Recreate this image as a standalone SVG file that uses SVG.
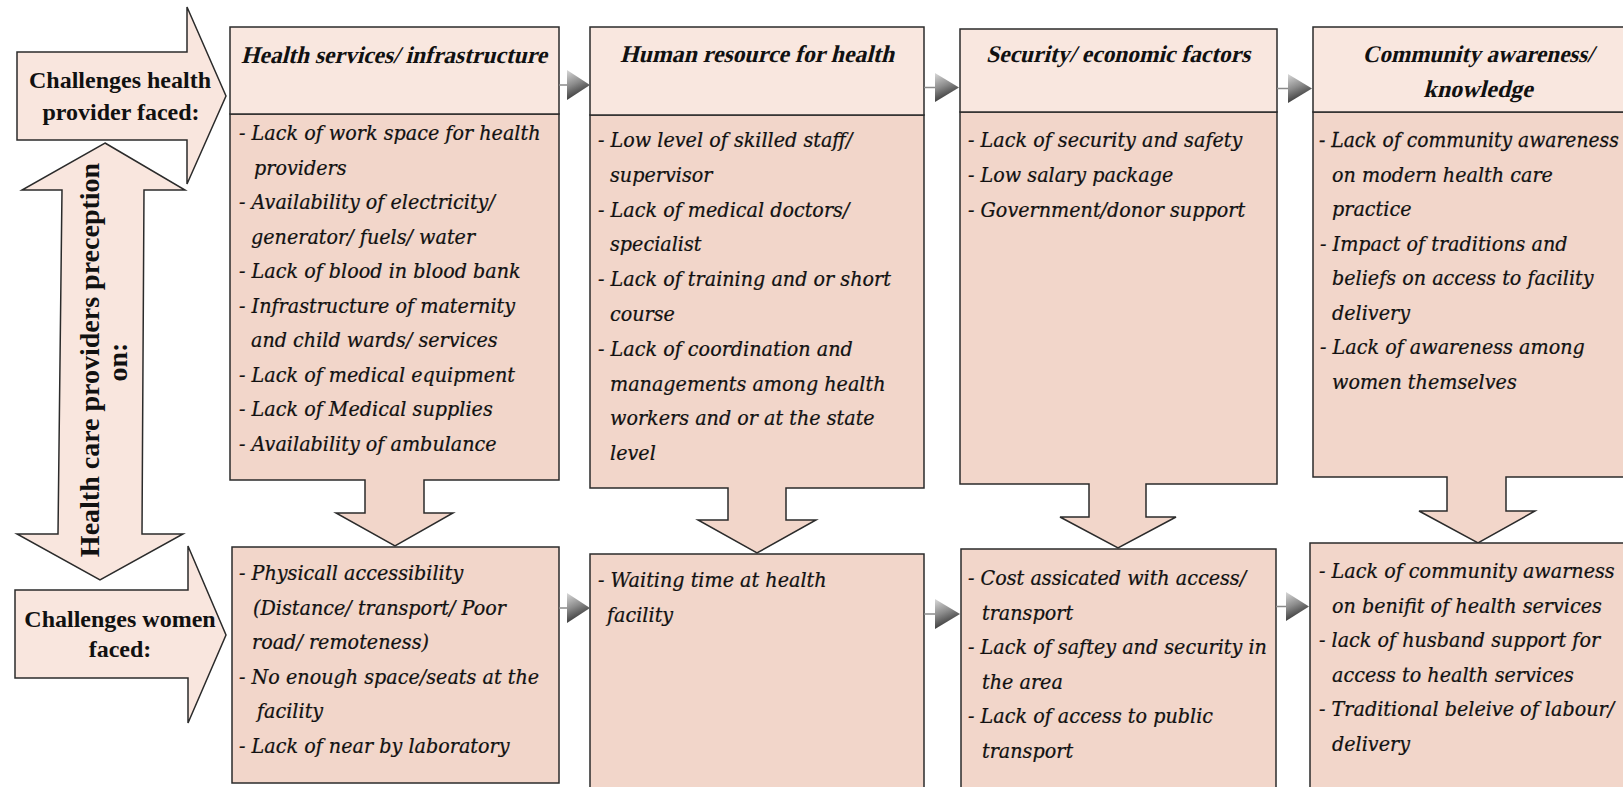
<svg xmlns="http://www.w3.org/2000/svg" width="1623" height="787" viewBox="0 0 1623 787">
  <style>
    .hdr { fill: #f9e7df; stroke: #2b2b2b; stroke-width: 1.5; }
    .body { fill: #f2d6ca; stroke: #2b2b2b; stroke-width: 1.5; }
    .side { fill: #f9e6de; stroke: #2b2b2b; stroke-width: 1.5; }
    .lbl { font-family: "Liberation Serif", "Times New Roman", serif; font-size: 24px; fill: #111; font-weight: bold; }
    .item { font-family: "DejaVu Serif", serif; font-size: 21px; font-style: italic; fill: #111; stroke: #111; stroke-width: 0.25; }
    .conn-line { stroke: #8a8a8a; stroke-width: 1.5; fill: none; }
    .conn-head { fill: url(#headGrad); }
  </style>
  <defs>
    <linearGradient id="headGrad" x1="0" y1="0" x2="0.35" y2="1">
      <stop offset="0" stop-color="#d9d9d9"/>
      <stop offset="0.5" stop-color="#8c8c8c"/>
      <stop offset="1" stop-color="#2e2e2e"/>
    </linearGradient>
  </defs>

  <rect x="0" y="0" width="1623" height="787" fill="#ffffff"/>

  <!-- Left side arrows -->
  <g id="provider-arrow">
    <path class="side" d="M17,52 H187 V7 L226,96 L187,184 V140 H17 Z"/>
    <text class="lbl" text-anchor="middle" x="120" y="88">Challenges health</text>
    <text class="lbl" text-anchor="middle" x="121" y="120">provider faced:</text>
  </g>

  <g id="perception-arrow">
    <path class="side" d="M105,143 L185,190 H144 L142,534 H183 L100,580 L17,534 H58 L62,190 H22 Z"/>
    <text class="lbl" style="font-size:28px" text-anchor="middle" transform="translate(99,360) rotate(-90)">Health care providers preception</text>
    <text class="lbl" style="font-size:28px" text-anchor="middle" transform="translate(127,362) rotate(-90)">on:</text>
  </g>

  <g id="women-arrow">
    <path class="side" d="M15,590 H188 V546 L226,635 L188,723 V678 H15 Z"/>
    <text class="lbl" text-anchor="middle" x="120" y="627">Challenges women</text>
    <text class="lbl" text-anchor="middle" x="120" y="657">faced:</text>
  </g>

  <!-- Column 1: health services -->
  <g id="health-services">
    <path class="body" d="M230,114 H559 V480 H424 V513 H453 L395,546 L336,513 H365 V480 H230 Z"/>
    <rect class="hdr" x="230" y="27" width="329" height="87"/>
    <text class="lbl" text-anchor="middle" textLength="306" lengthAdjust="spacingAndGlyphs" transform="translate(394,63) skewX(-14)">Health services/ infrastructure</text>
    <g class="item">
      <text transform="translate(239,140) scale(0.913,1)">- Lack of work space for health</text>
      <text transform="translate(254,174.5) scale(0.913,1)">providers</text>
      <text transform="translate(239,209) scale(0.913,1)">- Availability of electricity/</text>
      <text transform="translate(251,243.5) scale(0.913,1)">generator/ fuels/ water</text>
      <text transform="translate(239,278) scale(0.913,1)">- Lack of blood in blood bank</text>
      <text transform="translate(239,312.5) scale(0.913,1)">- Infrastructure of maternity</text>
      <text transform="translate(251,347) scale(0.913,1)">and child wards/ services</text>
      <text transform="translate(239,381.5) scale(0.913,1)">- Lack of medical equipment</text>
      <text transform="translate(239,416) scale(0.913,1)">- Lack of Medical supplies</text>
      <text transform="translate(239,450.5) scale(0.913,1)">- Availability of ambulance</text>
    </g>
  </g>

  <!-- Column 2: human resource -->
  <g id="human-resource">
    <path class="body" d="M590,115 H924 V488 H786 V520 H816 L757,553 L698,520 H728 V488 H590 Z"/>
    <rect class="hdr" x="590" y="27" width="334" height="88"/>
    <text class="lbl" text-anchor="middle" textLength="274" lengthAdjust="spacingAndGlyphs" transform="translate(757,62) skewX(-14)">Human resource for health</text>
    <g class="item">
      <text transform="translate(598,147) scale(0.913,1)">- Low level of skilled staff/</text>
      <text transform="translate(610,181.8) scale(0.913,1)">supervisor</text>
      <text transform="translate(598,216.6) scale(0.913,1)">- Lack of medical doctors/</text>
      <text transform="translate(610,251.4) scale(0.913,1)">specialist</text>
      <text transform="translate(598,286.2) scale(0.913,1)">- Lack of training and or short</text>
      <text transform="translate(610,321) scale(0.913,1)">course</text>
      <text transform="translate(598,355.8) scale(0.913,1)">- Lack of coordination and</text>
      <text transform="translate(610,390.6) scale(0.913,1)">managements among health</text>
      <text transform="translate(610,425.4) scale(0.913,1)">workers and or at the state</text>
      <text transform="translate(610,460.2) scale(0.913,1)">level</text>
    </g>
  </g>

  <!-- Column 3: security / economic -->
  <g id="security-economic">
    <path class="body" d="M960,112 H1277 V484 H1146 V517 H1176 L1118,548 L1060,517 H1089 V484 H960 Z"/>
    <rect class="hdr" x="960" y="29" width="317" height="83"/>
    <text class="lbl" text-anchor="middle" textLength="264" lengthAdjust="spacingAndGlyphs" transform="translate(1118,62) skewX(-14)">Security/ economic factors</text>
    <g class="item">
      <text transform="translate(968,147) scale(0.913,1)">- Lack of security and safety</text>
      <text transform="translate(968,181.8) scale(0.913,1)">- Low salary package</text>
      <text transform="translate(968,216.6) scale(0.913,1)">- Government/donor support</text>
    </g>
  </g>

  <!-- Column 4: community awareness -->
  <g id="community-awareness">
    <path class="body" d="M1313,112 H1645 V477 H1506 V511 H1535 L1478,543 L1419,511 H1447 V477 H1313 Z"/>
    <rect class="hdr" x="1313" y="27" width="332" height="85"/>
    <text class="lbl" text-anchor="middle" textLength="231" lengthAdjust="spacingAndGlyphs" transform="translate(1478,62) skewX(-14)">Community awareness/</text>
    <text class="lbl" text-anchor="middle" transform="translate(1478,97) skewX(-14)">knowledge</text>
    <g class="item">
      <text transform="translate(1319,147) scale(0.892,1)">- Lack of community awareness</text>
      <text transform="translate(1332,181.5) scale(0.913,1)">on modern health care</text>
      <text transform="translate(1332,216) scale(0.913,1)">practice</text>
      <text transform="translate(1320,250.5) scale(0.913,1)">- Impact of traditions and</text>
      <text transform="translate(1332,285) scale(0.913,1)">beliefs on access to facility</text>
      <text transform="translate(1332,319.5) scale(0.913,1)">delivery</text>
      <text transform="translate(1320,354) scale(0.913,1)">- Lack of awareness among</text>
      <text transform="translate(1332,388.5) scale(0.913,1)">women themselves</text>
    </g>
  </g>

  <!-- Bottom row: challenges women faced -->
  <g id="women-access">
    <rect class="body" x="232" y="547" width="327" height="236"/>
    <g class="item">
      <text transform="translate(239,580) scale(0.913,1)">- Physicall accessibility</text>
      <text transform="translate(253,614.5) scale(0.913,1)">(Distance/ transport/ Poor</text>
      <text transform="translate(252,649) scale(0.913,1)">road/ remoteness)</text>
      <text transform="translate(239,683.5) scale(0.913,1)">- No enough space/seats at the</text>
      <text transform="translate(257,718) scale(0.913,1)">facility</text>
      <text transform="translate(239,752.5) scale(0.913,1)">- Lack of near by laboratory</text>
    </g>
  </g>

  <g id="women-waiting">
    <rect class="body" x="590" y="554" width="334" height="250"/>
    <g class="item">
      <text transform="translate(598,587) scale(0.913,1)">- Waiting time at health</text>
      <text transform="translate(607,621.5) scale(0.913,1)">facility</text>
    </g>
  </g>

  <g id="women-cost">
    <rect class="body" x="961" y="549" width="315" height="250"/>
    <g class="item">
      <text transform="translate(968,585) scale(0.913,1)">- Cost assicated with access/</text>
      <text transform="translate(982,619.5) scale(0.913,1)">transport</text>
      <text transform="translate(968,654) scale(0.913,1)">- Lack of saftey and security in</text>
      <text transform="translate(982,688.5) scale(0.913,1)">the area</text>
      <text transform="translate(968,723) scale(0.913,1)">- Lack of access to public</text>
      <text transform="translate(982,757.5) scale(0.913,1)">transport</text>
    </g>
  </g>

  <g id="women-awareness">
    <rect class="body" x="1310" y="543" width="335" height="260"/>
    <g class="item">
      <text transform="translate(1319,578) scale(0.913,1)">- Lack of community awarness</text>
      <text transform="translate(1332,612.5) scale(0.913,1)">on benifit of health services</text>
      <text transform="translate(1319,647) scale(0.913,1)">- lack of husband support for</text>
      <text transform="translate(1332,681.5) scale(0.913,1)">access to health services</text>
      <text transform="translate(1319,716) scale(0.913,1)">- Traditional beleive of labour/</text>
      <text transform="translate(1332,750.5) scale(0.913,1)">delivery</text>
    </g>
  </g>

  <!-- Connectors between columns -->
  <g id="connectors">
    <line class="conn-line" x1="559" y1="85" x2="568" y2="85"/>
    <polygon class="conn-head" points="567,70 590,85 567,100"/>
    <line class="conn-line" x1="924" y1="87.5" x2="936" y2="87.5"/>
    <polygon class="conn-head" points="935,73 959,87.5 935,102"/>
    <line class="conn-line" x1="1277" y1="88.5" x2="1289" y2="88.5"/>
    <polygon class="conn-head" points="1288,74 1312,88.5 1288,103"/>

    <line class="conn-line" x1="559" y1="608" x2="568" y2="608"/>
    <polygon class="conn-head" points="567,593 590,608 567,623"/>
    <line class="conn-line" x1="924" y1="614" x2="936" y2="614"/>
    <polygon class="conn-head" points="935,599 960,614 935,629"/>
    <line class="conn-line" x1="1276" y1="606.5" x2="1287" y2="606.5"/>
    <polygon class="conn-head" points="1286,592 1309,606.5 1286,621"/>
  </g>
</svg>
